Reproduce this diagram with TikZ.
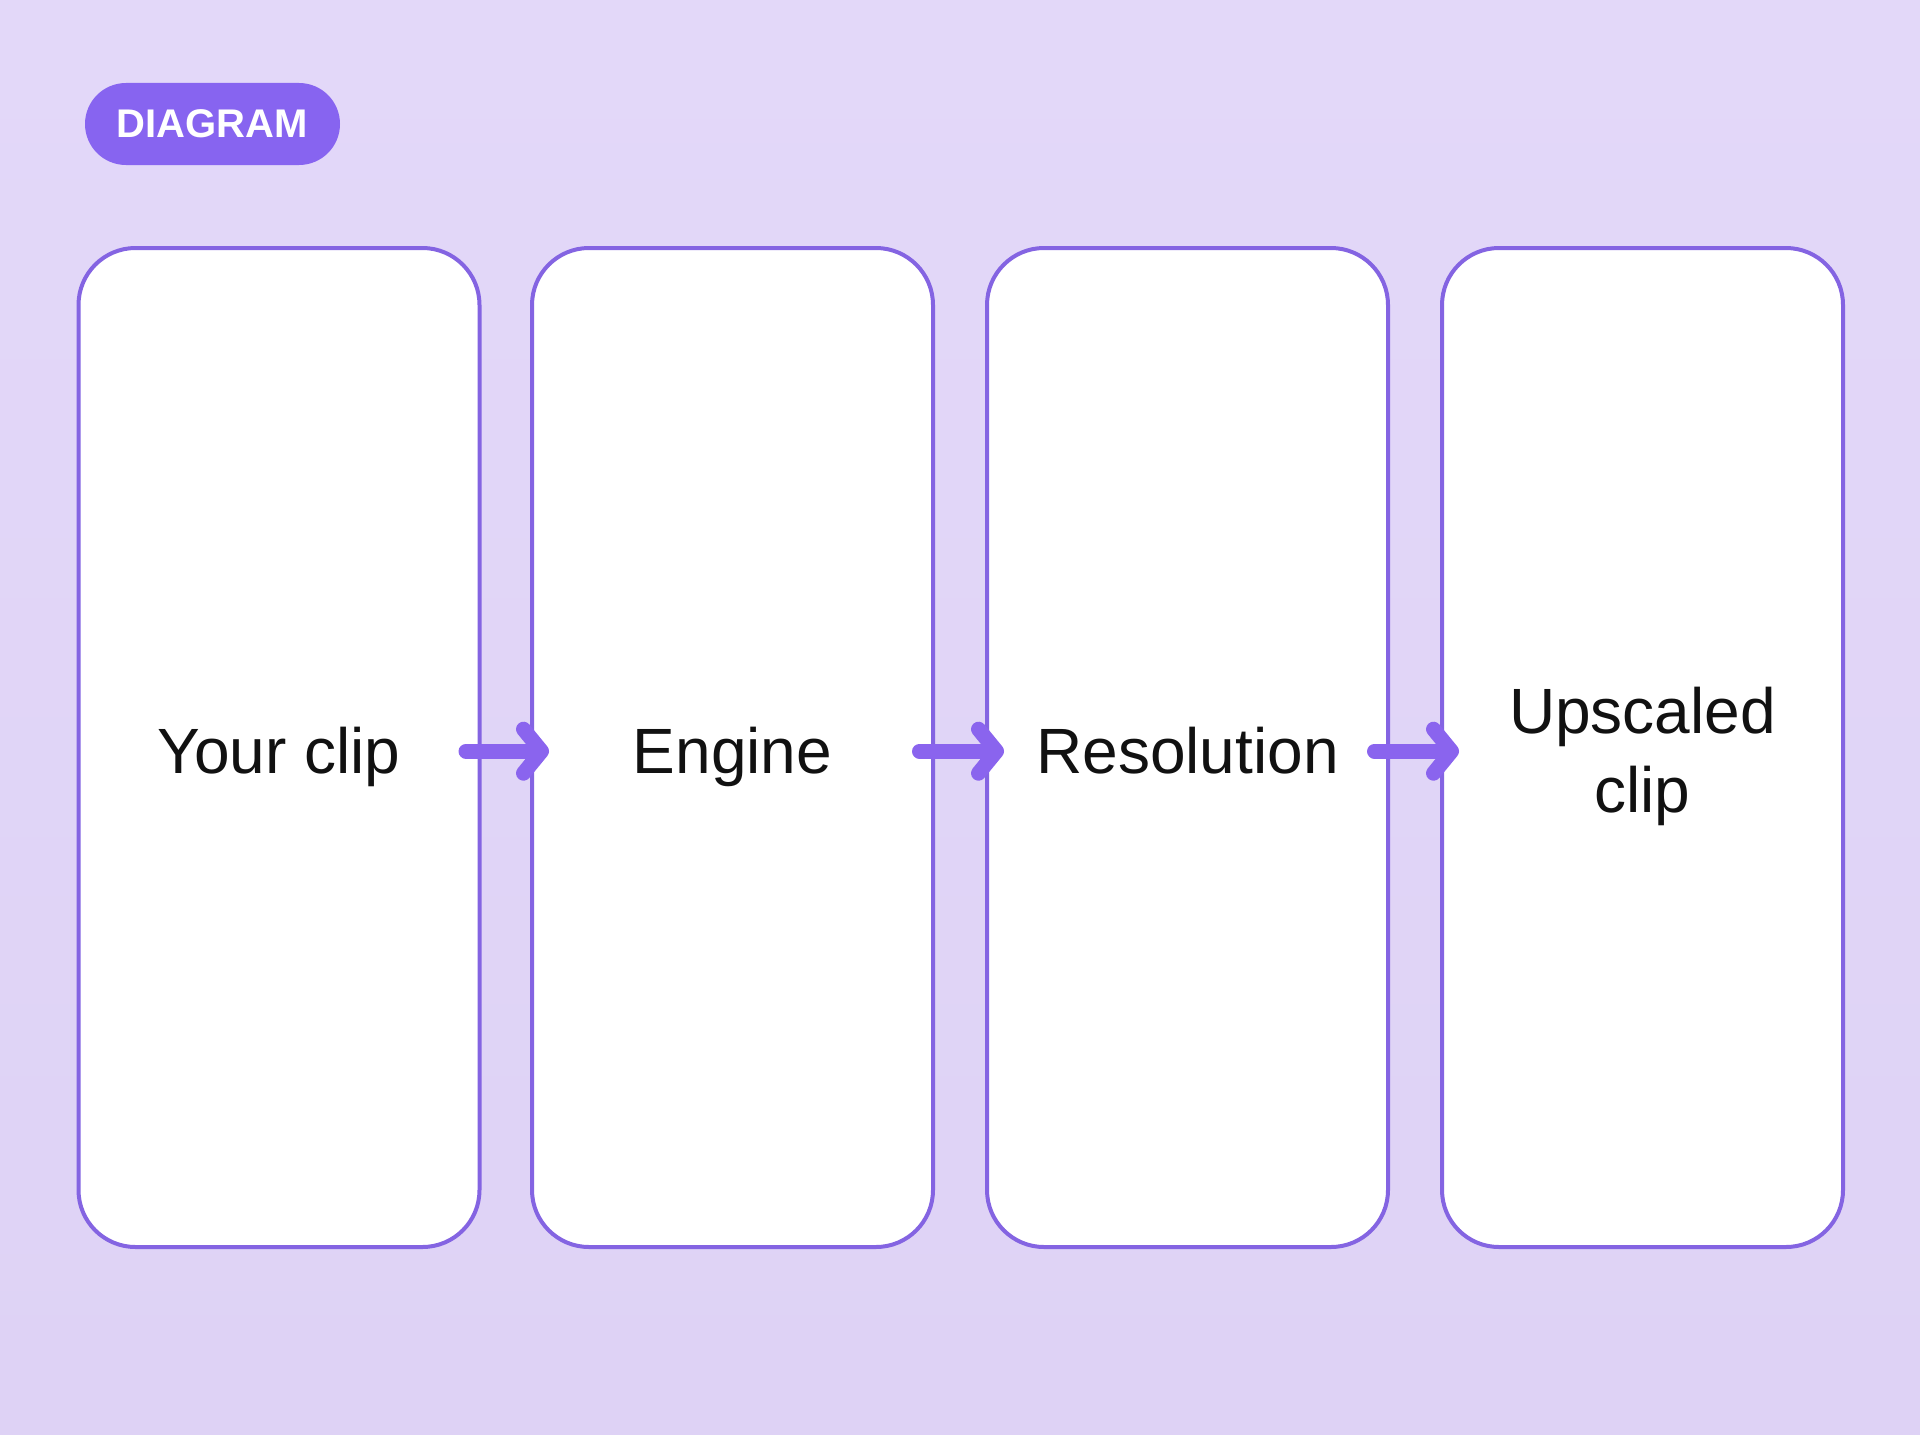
\documentclass[tikz,border=0pt]{standalone}
\usepackage{fontspec}
\setmainfont{Liberation Sans}
\usetikzlibrary{arrows.meta}
\definecolor{bgtop}{HTML}{E3D8F9}
\definecolor{bgbottom}{HTML}{DED2F5}
\definecolor{lineviolet}{HTML}{8464E2}
\definecolor{arrowviolet}{HTML}{8A64EE}
\definecolor{tagviolet}{HTML}{8764F0}
\definecolor{ink}{HTML}{111111}

\begin{document}
\begin{tikzpicture}[x=0.5pt,y=-0.5pt,
	panel/.style={draw=lineviolet, line width=2pt, fill=white, rounded corners=28.5pt,
		minimum width=200.5pt, minimum height=499.5pt, align=center, text=ink,
		text height=26pt, text depth=0pt,
		font=\fontsize{32}{39.5}\selectfont},
	flow/.style={draw=arrowviolet, line width=7.5pt, line cap=round,
		transform canvas={yshift=-1.85pt},
		-{Straight Barb[length=9pt, width=22pt, round]},
		shorten <=-7.75pt, shorten >=-9.5pt},
	badge/.style={fill=tagviolet, text=white, rounded corners=20.5pt,
		minimum width=127.5pt, minimum height=41pt, font=\fontsize{20}{24}\bfseries}]
	\shade[top color=bgtop, bottom color=bgbottom] (0,0) rectangle (1920,1434);
	\useasboundingbox (0,0) rectangle (1920,1434);
	\node[badge] (tag) at (212.5,124) {DIAGRAM};
	\node[panel] (clip) at (279,747.5) {Your clip};
	\node[panel] (engine) at (732.5,747.5) {Engine};
	\node[panel] (res) at (1187.5,747.5) {Resolution};
	\node[panel, text height=64.5pt] (upscaled) at (1642.5,747.5) {Upscaled\\clip};
	\draw[flow] (clip) -- (engine);
	\draw[flow] (engine) -- (res);
	\draw[flow] (res) -- (upscaled);
\end{tikzpicture}
\end{document}
